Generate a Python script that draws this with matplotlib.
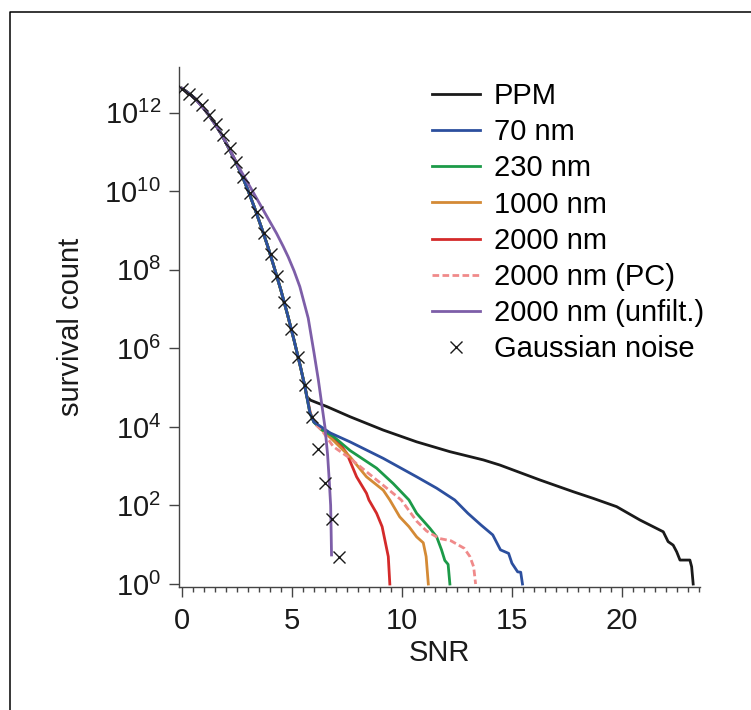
import numpy as np
import matplotlib
matplotlib.use("Agg")
import matplotlib.pyplot as plt
from matplotlib.lines import Line2D
from matplotlib.ticker import MultipleLocator, NullLocator

plt.rcParams["font.family"] = ["Liberation Sans", "DejaVu Sans"]
plt.rcParams["mathtext.fontset"] = "custom"
plt.rcParams["mathtext.rm"] = "Liberation Sans"

# shared steep part of the curves (SNR, log10 count)
core_snr = [0, 0.3, 0.6, 0.9, 1.2, 1.5, 1.8, 2.1, 2.4, 2.7, 3.0, 3.3, 3.6, 3.9,
            4.2, 4.5, 4.8, 5.1, 5.4, 5.6]
core_log = [12.62, 12.5, 12.36, 12.18, 11.96, 11.72, 11.45, 11.13, 10.8, 10.44,
            10.03, 9.58, 9.1, 8.6, 8.05, 7.48, 6.86, 6.2, 5.5, 5.0]

# tails, continuing from the shared part
ppm_snr = [5.67, 5.85, 6.12, 6.58, 7.64, 9.15, 10.67, 12.18, 13.7, 14.45, 16.27,
           17.79, 18.7, 19.76, 20.82, 21.88, 22.1, 22.33, 22.49, 22.64, 23.09,
           23.17, 23.24]
ppm_log = [4.77, 4.68, 4.62, 4.52, 4.26, 3.92, 3.62, 3.37, 3.16, 3.03, 2.65,
           2.35, 2.18, 1.97, 1.63, 1.33, 1.08, 0.99, 0.82, 0.61, 0.61, 0.44, 0.0]

nm70_snr = [5.82, 6.0, 6.2, 6.73, 7.64, 9.15, 10.67, 11.58, 12.4, 13.0, 13.6,
            14.13, 14.48, 14.85, 15.0, 15.26, 15.4, 15.48]
nm70_log = [4.35, 4.12, 4.05, 3.85, 3.62, 3.2, 2.73, 2.44, 2.14, 1.8, 1.5,
            1.25, 0.87, 0.78, 0.53, 0.31, 0.3, 0.0]

nm230_snr = [5.82, 6.0, 6.3, 6.9, 7.64, 8.85, 9.6, 10.32, 10.67, 11.27, 11.58,
             11.8, 11.95, 12.1, 12.18]
nm230_log = [4.35, 4.12, 3.95, 3.75, 3.4, 2.95, 2.56, 2.14, 1.8, 1.42, 1.2,
             0.87, 0.6, 0.5, 0.0]

nm1000_snr = [5.82, 6.0, 6.3, 6.8, 7.64, 8.39, 9.15, 9.45, 9.9, 10.32, 10.67,
              10.97, 11.1, 11.2]
nm1000_log = [4.35, 4.12, 3.95, 3.7, 3.24, 2.73, 2.39, 2.14, 1.71, 1.46, 1.2,
              1.05, 0.7, 0.0]

nm2000_snr = [5.84, 6.02, 6.25, 6.73, 7.2, 7.49, 7.94, 8.39, 8.5, 8.85, 9.1,
              9.38, 9.45]
nm2000_log = [4.35, 4.12, 4.0, 3.84, 3.55, 3.33, 2.73, 2.31, 2.14, 1.8, 1.46,
              0.7, 0.0]

pc_snr = [6.1, 6.35, 6.88, 7.64, 8.85, 9.97, 10.67, 11.12, 11.7, 12.23, 12.83,
          13.09, 13.26, 13.35]
pc_log = [4.05, 3.92, 3.5, 3.2, 2.65, 2.14, 1.6, 1.35, 1.16, 1.1, 0.91, 0.7,
          0.44, 0.0]

unfilt_snr = [0, 0.6, 1.2, 1.8, 2.4, 2.7, 3.09, 3.7, 4.3, 4.6, 4.83, 5.1, 5.36,
              5.74, 6.0, 6.2, 6.35, 6.5, 6.62, 6.7, 6.76, 6.78, 6.8]
unfilt_log = [12.62, 12.36, 11.96, 11.45, 10.82, 10.5, 10.12, 9.52, 8.93, 8.6,
              8.33, 7.97, 7.57, 6.77, 5.9, 5.2, 4.6, 4.0, 3.3, 2.6, 2.0, 1.4, 0.74]

gauss_snr = [0, 0.31, 0.62, 0.93, 1.24, 1.55, 1.86, 2.17, 2.48, 2.79, 3.1, 3.41,
             3.72, 4.03, 4.34, 4.65, 4.96, 5.27, 5.58, 5.89, 6.2, 6.51, 6.82, 7.13]
gauss_count = [4.0e12, 3.0e12, 2.2e12, 1.6e12, 8.7e11, 5.1e11, 2.7e11, 1.26e11,
               5.6e10, 2.3e10, 8.9e9, 3.0e9, 8.9e8, 2.6e8, 6.8e7, 1.55e7, 3.2e6,
               6.2e5, 1.17e5, 1.8e4, 2.7e3, 363, 45, 4.8]

ytick_exp = [0, 2, 4, 6, 8, 10, 12]
xtick_vals = [0, 5, 10, 15, 20]


def full_curve(tail_snr, tail_log, head=True):
    if head:
        x = np.array(core_snr + tail_snr)
        y = np.array(core_log + tail_log)
    else:
        x = np.array(tail_snr)
        y = np.array(tail_log)
    return x, 10.0 ** y


fig = plt.figure(figsize=(7.51, 7.10), dpi=100)
ax = fig.add_axes([179.3 / 751, 1 - 587 / 710, 520.7 / 751, 520 / 710])

# label, snr, log count, colour, style, uses shared head, zorder
series = [
    ("PPM", ppm_snr, ppm_log, "#1a1a1a", "-", True, 2.0),
    ("70 nm", nm70_snr, nm70_log, "#2c4f9e", "-", True, 2.6),
    ("230 nm", nm230_snr, nm230_log, "#1c9a48", "-", True, 2.4),
    ("1000 nm", nm1000_snr, nm1000_log, "#d48a35", "-", True, 2.3),
    ("2000 nm", nm2000_snr, nm2000_log, "#d42a2a", "-", True, 2.1),
    ("2000 nm (PC)", pc_snr, pc_log, "#f08a8a", (0, (2.4, 1.2)), False, 2.5),
    ("2000 nm (unfilt.)", unfilt_snr, unfilt_log, "#7d5ea8", "-", False, 2.7),
]

handles = []
for label, xs, ls_, color, style, head, z in series:
    x, y = full_curve(xs, ls_, head)
    line, = ax.plot(x, y, color=color, lw=2.0, ls=style, label=label,
                    solid_joinstyle="round", zorder=z)
    handles.append(line)

gl, = ax.plot(gauss_snr, gauss_count, ls="none", marker="x", ms=8,
              mew=1.0, color="#1a1a1a", label="Gaussian noise", zorder=3)
handles.append(gl)

ax.set_yscale("log")
ax.set_xlim(-0.12, 23.55)
ax.set_ylim(10 ** -0.076, 10 ** 13.165)

ax.set_yticks([10.0 ** e for e in ytick_exp])
ax.set_yticklabels([r"$\mathregular{10^{%d}}$" % e for e in ytick_exp])
ax.yaxis.set_minor_locator(NullLocator())
ax.set_xticks(xtick_vals)
ax.xaxis.set_minor_locator(MultipleLocator(0.5))

for s in ["top", "right"]:
    ax.spines[s].set_visible(False)
for s in ["left", "bottom"]:
    ax.spines[s].set_color("#444444")
    ax.spines[s].set_linewidth(1.0)

ax.tick_params(axis="both", which="major", direction="out", length=7.2,
               width=1.0, color="#444444", labelsize=21, labelcolor="#1a1a1a")
ax.tick_params(axis="x", which="major", pad=7)
ax.tick_params(axis="y", which="major", pad=6)
ax.tick_params(axis="x", which="minor", direction="out", length=3.6,
               width=1.0, color="#444444")

ax.set_xlabel("SNR", fontsize=21, labelpad=3, color="#1a1a1a")
ax.set_ylabel("survival count", fontsize=21, labelpad=14, color="#1a1a1a")

ax.legend(handles=handles, loc="upper left", bbox_to_anchor=(0.4847, 0.971),
          frameon=False, fontsize=21, borderpad=0, borderaxespad=0,
          handlelength=1.65, handletextpad=0.48, labelspacing=0.28)

# thin frame around the figure
fig.add_artist(Line2D([9.5 / 751, 9.5 / 751, 1.0], [0.0, 1 - 12 / 710, 1 - 12 / 710],
                      transform=fig.transFigure, color="black", lw=1.1))

fig.savefig("out.png", dpi=100)
